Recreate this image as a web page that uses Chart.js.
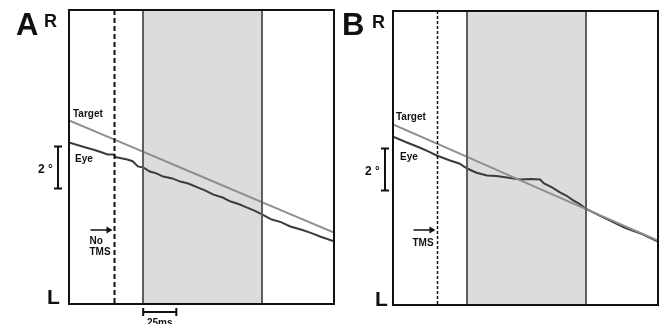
<!DOCTYPE html>
<html lang="en">
<head>
    <meta charset="UTF-8">
    <title>Target and eye traces, TMS</title>
    <style>
        body { margin: 0; background: #fff; }
        .wrap { position: relative; width: 662px; height: 324px; }
        canvas { position: absolute; top: 0; }
    </style>
</head>
<body>
    <div class="wrap">
        <canvas id="chart-a" width="340" height="324" style="left:0px"></canvas>
        <canvas id="chart-b" width="322" height="324" style="left:340px"></canvas>
    </div>

<script src="https://cdn.jsdelivr.net/npm/chart.js"></script>
<script>
    // time in ms from trace start, position in degrees (R up, L down)
    const targetTimeA = [0, 50, 100, 150, 200];
    const targetPosA  = [1.74, 0.41, -0.93, -2.27, -3.60];
    const eyeTimeA = [0, 10, 18, 24, 29, 34, 35, 44, 48, 52, 56, 61, 66, 71, 78, 84, 90, 97, 103, 109, 116, 122, 128, 134, 140, 146, 153, 160, 167, 175, 182, 190, 200];
    const eyePosA  = [0.69, 0.50, 0.36, 0.24, 0.12, 0.12, 0.00, -0.12, -0.20, -0.45, -0.50, -0.69, -0.78, -0.93, -1.02, -1.17, -1.26, -1.45, -1.60, -1.79, -1.93, -2.12, -2.24, -2.40, -2.55, -2.74, -2.98, -3.10, -3.31, -3.45, -3.60, -3.80, -4.02];

    const targetTimeB = [0, 50, 100, 150, 200];
    const targetPosB  = [1.60, 0.22, -1.17, -2.55, -3.93];
    const eyeTimeB = [0, 10, 20, 27, 33, 43, 50, 56, 63, 71, 78, 86, 96, 104, 111, 114, 120, 126, 131, 136, 141, 145, 150, 156, 165, 175, 188, 200];
    const eyePosB  = [1.02, 0.75, 0.50, 0.30, 0.12, -0.12, -0.26, -0.50, -0.70, -0.83, -0.86, -0.93, -1.02, -1.00, -1.02, -1.21, -1.40, -1.64, -1.80, -2.02, -2.20, -2.40, -2.55, -2.74, -3.02, -3.33, -3.62, -3.98];

    const tmsTime = [34, 33];          // dashed line, A / B
    const windowMs = [56, 146];        // shaded interval
    const scaleBarDeg = 2;
    const scaleBarMs = 25;

    function pts(xs, ys) { return xs.map((x, i) => ({ x: x, y: ys[i] })); }

    const FONT = '"Liberation Sans", Arial, sans-serif';

    function panelPlugin(p) {
        return {
            id: 'panel' + p.letter,
            beforeDatasetsDraw(chart) {
                const { ctx, chartArea: a, scales: { x } } = chart;
                ctx.save();
                ctx.fillStyle = '#dcdcdc';
                const x0 = x.getPixelForValue(windowMs[0]), x1 = x.getPixelForValue(windowMs[1]);
                ctx.fillRect(x0, a.top, x1 - x0, a.bottom - a.top);
                ctx.restore();
            },
            afterDraw(chart) {
                const { ctx, chartArea: a, scales: { x, y } } = chart;
                ctx.save();
                // window edges
                ctx.strokeStyle = '#5e5e5e';
                ctx.lineWidth = 2;
                windowMs.forEach(t => {
                    const px = Math.round(x.getPixelForValue(t));
                    ctx.beginPath(); ctx.moveTo(px, a.top); ctx.lineTo(px, a.bottom); ctx.stroke();
                });
                // TMS / no TMS time
                const tx = Math.round(x.getPixelForValue(p.tms)) + 0.5;
                ctx.strokeStyle = '#111';
                ctx.lineWidth = p.dashWidth;
                ctx.setLineDash(p.dash);
                ctx.beginPath(); ctx.moveTo(tx, a.top); ctx.lineTo(tx, a.bottom); ctx.stroke();
                ctx.setLineDash([]);
                // frame
                ctx.lineWidth = 2;
                ctx.strokeStyle = '#111';
                ctx.strokeRect(a.left, a.top, a.right - a.left, a.bottom - a.top);

                ctx.fillStyle = '#111';
                ctx.font = 'bold 31px ' + FONT;
                ctx.fillText(p.letter, p.letterX, 35);
                ctx.font = 'bold 18px ' + FONT;
                ctx.fillText('R', p.rX, p.rY);
                ctx.font = 'bold 21px ' + FONT;
                ctx.fillText('L', p.lX, p.lY);

                ctx.font = 'bold 10px ' + FONT;
                ctx.fillText('Target', a.left + p.targetDx, p.targetY);
                ctx.fillText('Eye', a.left + p.eyeDx, p.eyeY);

                // degree scale bar
                const bx = a.left - p.barDx;
                const by0 = y.getPixelForValue(p.barTop), by1 = y.getPixelForValue(p.barTop - scaleBarDeg);
                ctx.lineWidth = 2;
                ctx.beginPath();
                ctx.moveTo(bx, by0); ctx.lineTo(bx, by1);
                ctx.moveTo(bx - 4, by0); ctx.lineTo(bx + 4, by0);
                ctx.moveTo(bx - 4, by1); ctx.lineTo(bx + 4, by1);
                ctx.stroke();
                ctx.font = 'bold 12px ' + FONT;
                ctx.fillText('2 °', bx - 20, (by0 + by1) / 2 + 5);

                // arrow to the dashed line
                const ay = 230;
                ctx.lineWidth = 1.5;
                ctx.beginPath(); ctx.moveTo(tx - 24, ay); ctx.lineTo(tx - 6, ay); ctx.stroke();
                ctx.beginPath(); ctx.moveTo(tx - 2, ay); ctx.lineTo(tx - 8, ay - 3.5); ctx.lineTo(tx - 8, ay + 3.5); ctx.closePath(); ctx.fill();
                ctx.font = 'bold 10px ' + FONT;
                p.arrowText.forEach((s, i) => ctx.fillText(s, tx - 25, p.arrowTextY + i * 11));

                // time scale bar
                if (p.timeBar) {
                    const sx0 = x.getPixelForValue(windowMs[0]), sx1 = x.getPixelForValue(windowMs[0] + scaleBarMs);
                    const sy = 312;
                    ctx.lineWidth = 2;
                    ctx.beginPath();
                    ctx.moveTo(sx0, sy); ctx.lineTo(sx1, sy);
                    ctx.moveTo(sx0, sy - 4); ctx.lineTo(sx0, sy + 4);
                    ctx.moveTo(sx1, sy - 4); ctx.lineTo(sx1, sy + 4);
                    ctx.stroke();
                    ctx.font = 'bold 10px ' + FONT;
                    ctx.textAlign = 'center';
                    ctx.fillText('25ms', (sx0 + sx1) / 2, 326);
                }
                ctx.restore();
            }
        };
    }

    function drawPanel(cfg) {
        new Chart(document.getElementById(cfg.id), {
            type: 'line',
            data: {
                datasets: [
                    { label: 'Target', data: pts(cfg.targetT, cfg.targetY), borderColor: '#8e8e8e', borderWidth: 2, pointRadius: 0, tension: 0 },
                    { label: 'Eye', data: pts(cfg.eyeT, cfg.eyeY), borderColor: '#3c3c3c', borderWidth: 2, pointRadius: 0, tension: 0 }
                ]
            },
            options: {
                responsive: false,
                animation: false,
                devicePixelRatio: 1,
                layout: { padding: cfg.padding },
                plugins: { legend: { display: false }, tooltip: { enabled: false } },
                scales: {
                    x: { type: 'linear', min: 0, max: 200, display: false },
                    y: { type: 'linear', min: -7, max: 7, display: false }
                }
            },
            plugins: [panelPlugin(cfg.panel)]
        });
    }

    drawPanel({
        id: 'chart-a',
        targetT: targetTimeA, targetY: targetPosA, eyeT: eyeTimeA, eyeY: eyePosA,
        padding: { left: 69, right: 6, top: 10, bottom: 20 },
        panel: { letter: 'A', letterX: 16, rX: 44, rY: 27, lX: 47, lY: 304, tms: tmsTime[0],
                 dash: [5, 3], dashWidth: 2, targetDx: 4, targetY: 117, eyeDx: 6, eyeY: 162,
                 barDx: 11, barTop: 0.5, arrowText: ['No', 'TMS'], arrowTextY: 244, timeBar: true }
    });

    drawPanel({
        id: 'chart-b',
        targetT: targetTimeB, targetY: targetPosB, eyeT: eyeTimeB, eyeY: eyePosB,
        padding: { left: 53, right: 4, top: 11, bottom: 19 },
        panel: { letter: 'B', letterX: 2, rX: 32, rY: 28, lX: 35, lY: 306, tms: tmsTime[1],
                 dash: [3, 2], dashWidth: 1.5, targetDx: 3, targetY: 120, eyeDx: 7, eyeY: 160,
                 barDx: 8, barTop: 0.45, arrowText: ['TMS'], arrowTextY: 246, timeBar: false }
    });
</script>
</body>
</html>
